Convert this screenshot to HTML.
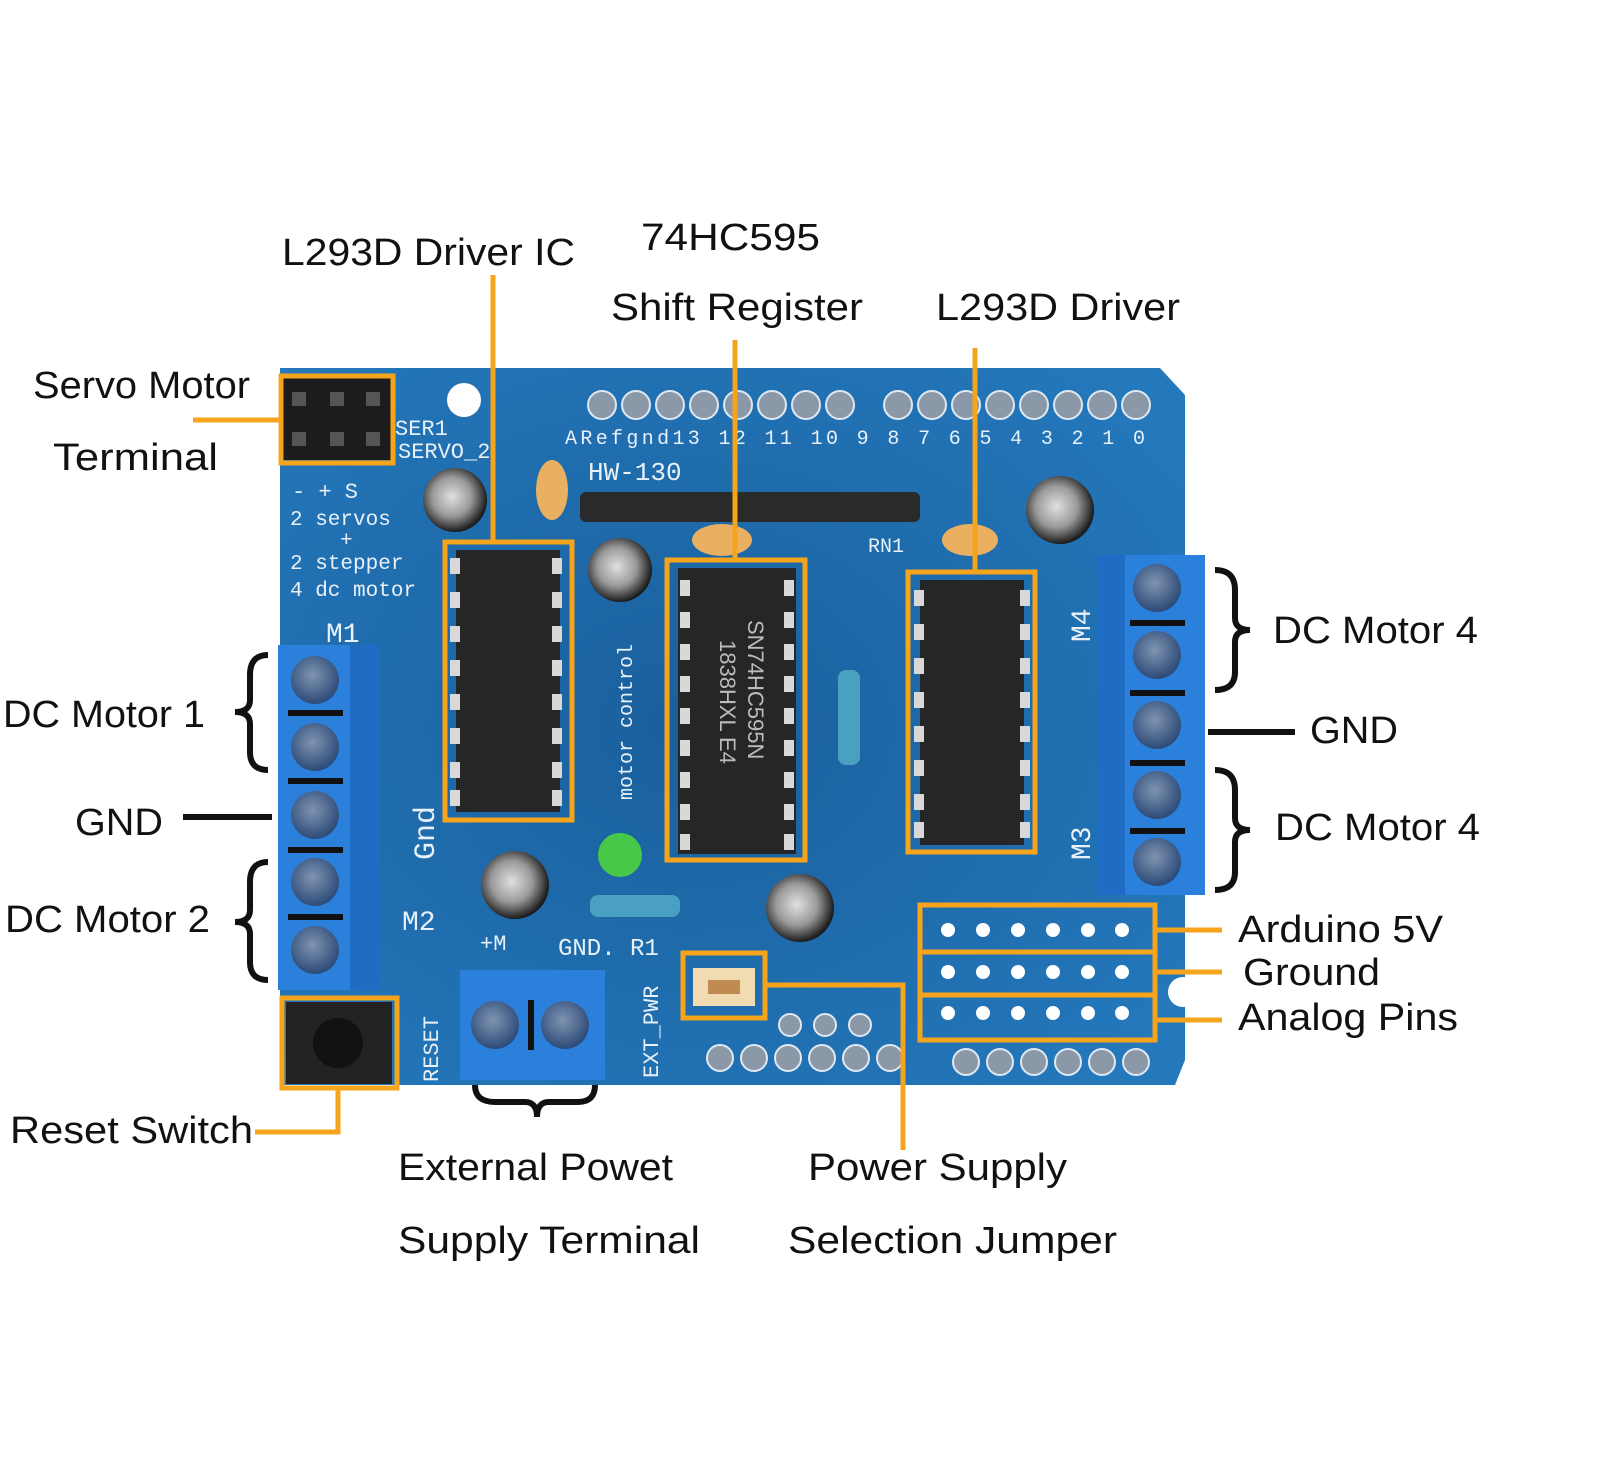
<!DOCTYPE html>
<html><head><meta charset="utf-8"><style>
html,body{margin:0;padding:0;background:#fff;}
svg{display:block}
.lb{font-family:"Liberation Sans",sans-serif;font-size:38px;fill:#111}
.sk{font-family:"Liberation Mono",monospace;fill:#e8f0f8}
</style></head><body>
<svg width="1600" height="1466" viewBox="0 0 1600 1466" xmlns="http://www.w3.org/2000/svg">
<defs>
<radialGradient id="bg" cx="45%" cy="50%" r="70%"><stop offset="0" stop-color="#1a5f9c"/><stop offset="1" stop-color="#2479bd"/></radialGradient>
<radialGradient id="scr" cx="45%" cy="40%" r="60%"><stop offset="0" stop-color="#7f94b0"/><stop offset="1" stop-color="#2c4a78"/></radialGradient>
<radialGradient id="cap" cx="45%" cy="45%" r="55%"><stop offset="0" stop-color="#e0e0e0"/><stop offset="0.55" stop-color="#9a9a9a"/><stop offset="1" stop-color="#1b1b1b"/></radialGradient>
</defs>
<path d="M280 368 L1160 368 L1185 395 L1185 1060 L1175 1085 L280 1085 Z" fill="url(#bg)"/>
<circle cx="464" cy="400" r="17" fill="#fff"/>
<circle cx="1183" cy="992" r="15" fill="#fff"/>
<g fill="#8a98a8" stroke="#dfe8f0" stroke-width="2">
<circle cx="602" cy="405" r="14"/><circle cx="636" cy="405" r="14"/><circle cx="670" cy="405" r="14"/><circle cx="704" cy="405" r="14"/><circle cx="738" cy="405" r="14"/><circle cx="772" cy="405" r="14"/><circle cx="806" cy="405" r="14"/><circle cx="840" cy="405" r="14"/>
<circle cx="898" cy="405" r="14"/><circle cx="932" cy="405" r="14"/><circle cx="966" cy="405" r="14"/><circle cx="1000" cy="405" r="14"/><circle cx="1034" cy="405" r="14"/><circle cx="1068" cy="405" r="14"/><circle cx="1102" cy="405" r="14"/><circle cx="1136" cy="405" r="14"/>
</g>
<text x="565" y="444" class="sk" font-size="20" textLength="580">ARefgnd13 12 11 10 9 8  7 6 5 4 3 2 1 0</text>
<text x="588" y="480" class="sk" font-size="26" font-family="Liberation Sans">HW-130</text>
<rect x="580" y="492" width="340" height="30" rx="6" fill="#2a2a2a"/>
<text x="868" y="552" class="sk" font-size="20">RN1</text>
<rect x="283" y="378" width="108" height="82" fill="#1c1c1c"/>
<g fill="#555"><rect x="292" y="392" width="14" height="14"/><rect x="330" y="392" width="14" height="14"/><rect x="366" y="392" width="14" height="14"/><rect x="292" y="432" width="14" height="14"/><rect x="330" y="432" width="14" height="14"/><rect x="366" y="432" width="14" height="14"/></g>
<text x="395" y="435" class="sk" font-size="22">SER1</text>
<text x="398" y="458" class="sk" font-size="22">SERVO_2</text>
<text x="292" y="498" class="sk" font-size="22">- + S</text>
<text x="290" y="525" class="sk" font-size="21">2 servos</text>
<text x="340" y="546" class="sk" font-size="21">+</text>
<text x="290" y="569" class="sk" font-size="21">2 stepper</text>
<text x="290" y="596" class="sk" font-size="21">4 dc motor</text>
<text x="326" y="642" class="sk" font-size="28" font-family="Liberation Sans">M1</text>
<text x="402" y="930" class="sk" font-size="28" font-family="Liberation Sans">M2</text>
<text x="558" y="955" class="sk" font-size="24" font-family="Liberation Sans">GND. R1</text>
<text x="480" y="950" class="sk" font-size="22" font-family="Liberation Sans">+M</text>
<circle cx="455" cy="500" r="32" fill="url(#cap)"/>
<circle cx="620" cy="570" r="32" fill="url(#cap)"/>
<circle cx="1060" cy="510" r="34" fill="url(#cap)"/>
<circle cx="515" cy="885" r="34" fill="url(#cap)"/>
<circle cx="800" cy="908" r="34" fill="url(#cap)"/>
<ellipse cx="552" cy="490" rx="16" ry="30" fill="#e8b060"/>
<ellipse cx="722" cy="540" rx="30" ry="16" fill="#e8b060"/>
<ellipse cx="970" cy="540" rx="28" ry="16" fill="#e8b060"/>
<circle cx="620" cy="855" r="22" fill="#48c848"/>
<rect x="590" y="895" width="90" height="22" rx="8" fill="#4aa0c0"/>
<rect x="838" y="670" width="22" height="95" rx="8" fill="#4aa0c0"/>
<text class="sk" font-size="20" transform="translate(632 800) rotate(-90)">motor control</text>
<rect x="456" y="550" width="104" height="262" fill="#262626"/>
<rect x="678" y="568" width="118" height="286" fill="#262626"/>
<rect x="920" y="580" width="104" height="265" fill="#262626"/>
<g fill="#d8d8d8">
<rect x="450" y="558" width="10" height="16"/><rect x="450" y="592" width="10" height="16"/><rect x="450" y="626" width="10" height="16"/><rect x="450" y="660" width="10" height="16"/><rect x="450" y="694" width="10" height="16"/><rect x="450" y="728" width="10" height="16"/><rect x="450" y="762" width="10" height="16"/><rect x="450" y="790" width="10" height="16"/>
<rect x="552" y="558" width="10" height="16"/><rect x="552" y="592" width="10" height="16"/><rect x="552" y="626" width="10" height="16"/><rect x="552" y="660" width="10" height="16"/><rect x="552" y="694" width="10" height="16"/><rect x="552" y="728" width="10" height="16"/><rect x="552" y="762" width="10" height="16"/><rect x="552" y="790" width="10" height="16"/>
<rect x="914" y="590" width="10" height="16"/><rect x="914" y="624" width="10" height="16"/><rect x="914" y="658" width="10" height="16"/><rect x="914" y="692" width="10" height="16"/><rect x="914" y="726" width="10" height="16"/><rect x="914" y="760" width="10" height="16"/><rect x="914" y="794" width="10" height="16"/><rect x="914" y="822" width="10" height="16"/>
<rect x="1020" y="590" width="10" height="16"/><rect x="1020" y="624" width="10" height="16"/><rect x="1020" y="658" width="10" height="16"/><rect x="1020" y="692" width="10" height="16"/><rect x="1020" y="726" width="10" height="16"/><rect x="1020" y="760" width="10" height="16"/><rect x="1020" y="794" width="10" height="16"/><rect x="1020" y="822" width="10" height="16"/>
<rect x="680" y="580" width="10" height="16"/><rect x="680" y="612" width="10" height="16"/><rect x="680" y="644" width="10" height="16"/><rect x="680" y="676" width="10" height="16"/><rect x="680" y="708" width="10" height="16"/><rect x="680" y="740" width="10" height="16"/><rect x="680" y="772" width="10" height="16"/><rect x="680" y="804" width="10" height="16"/><rect x="680" y="834" width="10" height="16"/>
<rect x="784" y="580" width="10" height="16"/><rect x="784" y="612" width="10" height="16"/><rect x="784" y="644" width="10" height="16"/><rect x="784" y="676" width="10" height="16"/><rect x="784" y="708" width="10" height="16"/><rect x="784" y="740" width="10" height="16"/><rect x="784" y="772" width="10" height="16"/><rect x="784" y="804" width="10" height="16"/><rect x="784" y="834" width="10" height="16"/>
</g>
<text font-family="Liberation Sans" font-size="22" fill="#bbb" transform="translate(720 640) rotate(90)">1838HXL E4</text>
<text font-family="Liberation Sans" font-size="22" fill="#bbb" transform="translate(748 620) rotate(90)">SN74HC595N</text>
<rect x="278" y="645" width="102" height="345" fill="#2b80dc"/>
<rect x="350" y="645" width="30" height="345" fill="#1f6cc4"/>
<rect x="1097" y="555" width="108" height="340" fill="#2b80dc"/>
<rect x="1097" y="555" width="28" height="340" fill="#1f6cc4"/>
<rect x="460" y="970" width="145" height="110" fill="#2b80dc"/>
<g fill="url(#scr)">
<circle cx="315" cy="680" r="24"/><circle cx="315" cy="747" r="24"/><circle cx="315" cy="815" r="24"/><circle cx="315" cy="882" r="24"/><circle cx="315" cy="950" r="24"/>
<circle cx="1157" cy="588" r="24"/><circle cx="1157" cy="655" r="24"/><circle cx="1157" cy="725" r="24"/><circle cx="1157" cy="795" r="24"/><circle cx="1157" cy="862" r="24"/>
<circle cx="495" cy="1025" r="24"/><circle cx="565" cy="1025" r="24"/>
</g>
<g fill="#111"><rect x="288" y="710" width="55" height="6"/><rect x="288" y="778" width="55" height="6"/><rect x="288" y="847" width="55" height="6"/><rect x="288" y="914" width="55" height="6"/>
<rect x="1130" y="620" width="55" height="6"/><rect x="1130" y="690" width="55" height="6"/><rect x="1130" y="760" width="55" height="6"/><rect x="1130" y="828" width="55" height="6"/><rect x="528" y="1000" width="6" height="50"/></g>
<text class="sk" font-size="28" font-family="Liberation Sans" transform="translate(1090 642) rotate(-90)">M4</text>
<text class="sk" font-size="28" font-family="Liberation Sans" transform="translate(1090 860) rotate(-90)">M3</text>
<text class="sk" font-size="22" font-family="Liberation Sans" transform="translate(658 1078) rotate(-90)">EXT_PWR</text>
<text class="sk" font-size="22" font-family="Liberation Sans" transform="translate(438 1082) rotate(-90)">RESET</text>
<text class="sk" font-size="30" font-family="Liberation Sans" transform="translate(434 860) rotate(-90)">Gnd</text>
<rect x="286" y="1002" width="106" height="82" fill="#222"/>
<circle cx="338" cy="1043" r="25" fill="#111"/>
<rect x="693" y="968" width="62" height="38" fill="#f0dcb0"/>
<rect x="708" y="980" width="32" height="14" fill="#c08a50"/>
<g fill="#fff">
<circle cx="948" cy="930" r="7"/><circle cx="983" cy="930" r="7"/><circle cx="1018" cy="930" r="7"/><circle cx="1053" cy="930" r="7"/><circle cx="1088" cy="930" r="7"/><circle cx="1122" cy="930" r="7"/>
<circle cx="948" cy="972" r="7"/><circle cx="983" cy="972" r="7"/><circle cx="1018" cy="972" r="7"/><circle cx="1053" cy="972" r="7"/><circle cx="1088" cy="972" r="7"/><circle cx="1122" cy="972" r="7"/>
<circle cx="948" cy="1013" r="7"/><circle cx="983" cy="1013" r="7"/><circle cx="1018" cy="1013" r="7"/><circle cx="1053" cy="1013" r="7"/><circle cx="1088" cy="1013" r="7"/><circle cx="1122" cy="1013" r="7"/>
</g>
<g fill="#8a98a8" stroke="#dfe8f0" stroke-width="2">
<circle cx="720" cy="1058" r="13"/><circle cx="754" cy="1058" r="13"/><circle cx="788" cy="1058" r="13"/><circle cx="822" cy="1058" r="13"/><circle cx="856" cy="1058" r="13"/><circle cx="890" cy="1058" r="13"/>
<circle cx="790" cy="1025" r="11"/><circle cx="825" cy="1025" r="11"/><circle cx="860" cy="1025" r="11"/>
<circle cx="966" cy="1062" r="13"/><circle cx="1000" cy="1062" r="13"/><circle cx="1034" cy="1062" r="13"/><circle cx="1068" cy="1062" r="13"/><circle cx="1102" cy="1062" r="13"/><circle cx="1136" cy="1062" r="13"/>
</g>
<g fill="none" stroke="#f5a41c" stroke-width="5">
<rect x="281" y="376" width="112" height="87"/>
<rect x="445" y="542" width="127" height="278"/>
<rect x="667" y="560" width="138" height="300"/>
<rect x="908" y="572" width="127" height="280"/>
<rect x="282" y="998" width="115" height="90"/>
<rect x="683" y="953" width="82" height="65"/>
<rect x="920" y="905" width="235" height="47"/>
<rect x="920" y="952" width="235" height="43"/>
<rect x="920" y="995" width="235" height="45"/>
<path d="M193 420 H281"/>
<path d="M493 275 V542"/>
<path d="M735 340 V560"/>
<path d="M975 348 V572"/>
<path d="M338 1088 V1132 H255"/>
<path d="M765 985 H903 V1150"/>
<path d="M1155 930 H1222 M1155 972 H1222 M1155 1020 H1222"/>
</g>
<g fill="none" stroke="#111" stroke-width="6">
<path d="M268 655 Q250 655 250 675 V700 Q250 712 235 712 Q250 712 250 724 V752 Q250 770 268 770"/>
<path d="M268 862 Q250 862 250 882 V910 Q250 922 235 922 Q250 922 250 934 V962 Q250 980 268 980"/>
<path d="M183 817 H272"/>
<path d="M1215 570 Q1235 570 1235 590 V618 Q1235 630 1250 630 Q1235 630 1235 642 V672 Q1235 690 1215 690"/>
<path d="M1215 770 Q1235 770 1235 790 V818 Q1235 830 1250 830 Q1235 830 1235 842 V872 Q1235 890 1215 890"/>
<path d="M1208 732 H1295"/>
<path d="M475 1085 Q475 1102 495 1102 H525 Q537 1102 537 1117 Q537 1102 549 1102 H578 Q595 1102 595 1085"/>
</g>
<text x="282" y="265" class="lb" textLength="293" lengthAdjust="spacingAndGlyphs">L293D Driver IC</text>
<text x="641" y="250" class="lb" textLength="179" lengthAdjust="spacingAndGlyphs">74HC595</text>
<text x="611" y="320" class="lb" textLength="252" lengthAdjust="spacingAndGlyphs">Shift Register</text>
<text x="936" y="320" class="lb" textLength="244" lengthAdjust="spacingAndGlyphs">L293D Driver</text>
<text x="33" y="398" class="lb" textLength="217" lengthAdjust="spacingAndGlyphs">Servo Motor</text>
<text x="53" y="470" class="lb" textLength="165" lengthAdjust="spacingAndGlyphs">Terminal</text>
<text x="3" y="727" class="lb" textLength="202" lengthAdjust="spacingAndGlyphs">DC Motor 1</text>
<text x="75" y="835" class="lb" textLength="88" lengthAdjust="spacingAndGlyphs">GND</text>
<text x="5" y="932" class="lb" textLength="205" lengthAdjust="spacingAndGlyphs">DC Motor 2</text>
<text x="10" y="1143" class="lb" textLength="243" lengthAdjust="spacingAndGlyphs">Reset Switch</text>
<text x="398" y="1180" class="lb" textLength="275" lengthAdjust="spacingAndGlyphs">External Powet</text>
<text x="398" y="1253" class="lb" textLength="302" lengthAdjust="spacingAndGlyphs">Supply Terminal</text>
<text x="808" y="1180" class="lb" textLength="259" lengthAdjust="spacingAndGlyphs">Power Supply</text>
<text x="788" y="1253" class="lb" textLength="329" lengthAdjust="spacingAndGlyphs">Selection Jumper</text>
<text x="1273" y="643" class="lb" textLength="205" lengthAdjust="spacingAndGlyphs">DC Motor 4</text>
<text x="1310" y="743" class="lb" textLength="88" lengthAdjust="spacingAndGlyphs">GND</text>
<text x="1275" y="840" class="lb" textLength="205" lengthAdjust="spacingAndGlyphs">DC Motor 4</text>
<text x="1238" y="942" class="lb" textLength="205" lengthAdjust="spacingAndGlyphs">Arduino 5V</text>
<text x="1243" y="985" class="lb" textLength="137" lengthAdjust="spacingAndGlyphs">Ground</text>
<text x="1238" y="1030" class="lb" textLength="220" lengthAdjust="spacingAndGlyphs">Analog Pins</text>
</svg>
</body></html>
